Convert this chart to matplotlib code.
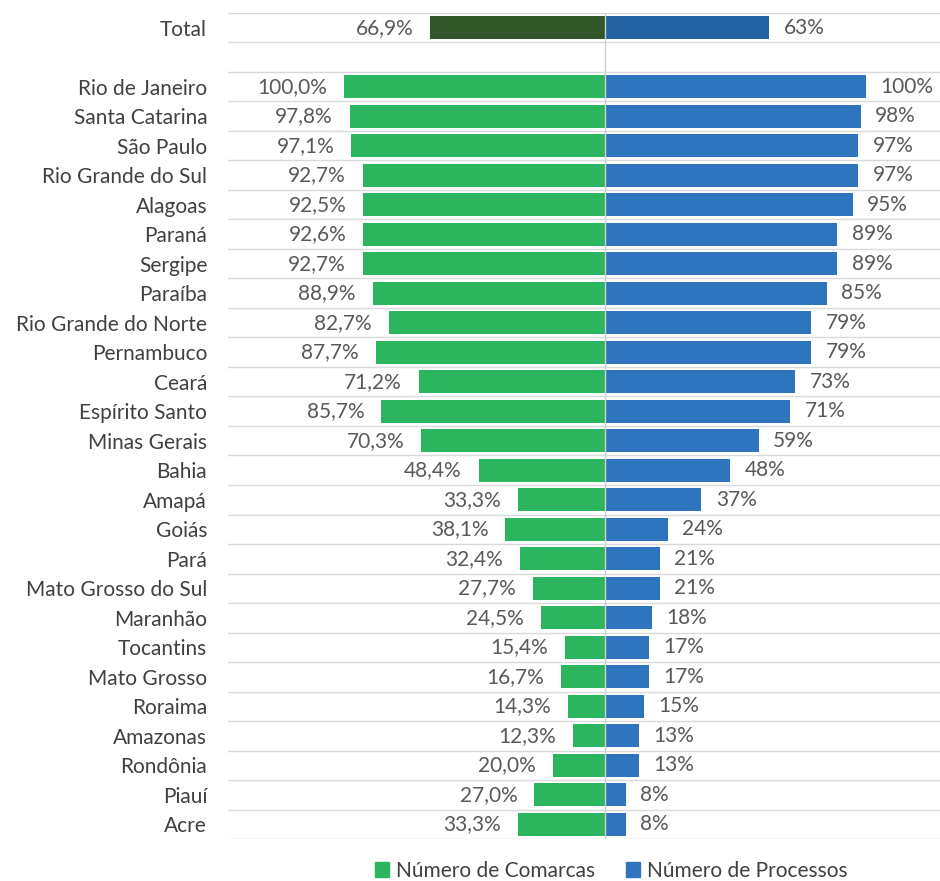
import numpy as np
import matplotlib
matplotlib.use("Agg")
import matplotlib.pyplot as plt
from matplotlib.patches import Patch

plt.rcParams["font.family"] = ["Lato", "DejaVu Sans"]

states = [
    "Rio de Janeiro", "Santa Catarina", "São Paulo", "Rio Grande do Sul",
    "Alagoas", "Paraná", "Sergipe", "Paraíba", "Rio Grande do Norte",
    "Pernambuco", "Ceará", "Espírito Santo", "Minas Gerais", "Bahia",
    "Amapá", "Goiás", "Pará", "Mato Grosso do Sul", "Maranhão",
    "Tocantins", "Mato Grosso", "Roraima", "Amazonas", "Rondônia",
    "Piauí", "Acre",
]
comarcas = [100.0, 97.8, 97.1, 92.7, 92.5, 92.6, 92.7, 88.9, 82.7, 87.7,
            71.2, 85.7, 70.3, 48.4, 33.3, 38.1, 32.4, 27.7, 24.5, 15.4,
            16.7, 14.3, 12.3, 20.0, 27.0, 33.3]
processos = [100, 98, 97, 97, 95, 89, 89, 85, 79, 79, 73, 71, 59, 48, 37,
             24, 21, 21, 18, 17, 17, 15, 13, 13, 8, 8]
total_label = "Total"
total_comarcas = 66.9
total_processos = 63

green = "#2BB55F"
blue = "#2E75BE"
dark_green = "#31562A"
dark_blue = "#2262A2"
text_col = "#595959"
label_col = "#404040"

fig = plt.figure(figsize=(9.4, 8.81), dpi=100)
ax = fig.add_axes([228 / 940, 1 - 839 / 881, 1 - 228 / 940, (839 - 13) / 881])

n = len(states)
ypos = np.arange(n) + 2  # row 0 = total, row 1 = blank
h = 0.78

ax.barh(ypos, [-v for v in comarcas], height=h, color=green)
ax.barh(ypos, processos, height=h, color=blue)
ax.barh([0], [-total_comarcas], height=h, color=dark_green)
ax.barh([0], [total_processos], height=h, color=dark_blue)

fs = 15
for y, c, p in zip(ypos, comarcas, processos):
    ax.text(-c - 6.5, y, f"{c:.1f}%".replace(".", ","), ha="right", va="center",
            fontsize=fs, color=text_col)
    ax.text(p + 5.5, y, f"{p}%", ha="left", va="center", fontsize=fs, color=text_col)
ax.text(-total_comarcas - 6.5, 0, f"{total_comarcas:.1f}%".replace(".", ","),
        ha="right", va="center", fontsize=fs, color=text_col)
ax.text(total_processos + 5.5, 0, f"{total_processos}%", ha="left", va="center",
        fontsize=fs, color=text_col)

ax.set_yticks([0] + list(ypos))
ax.set_yticklabels([total_label] + states, fontsize=fs, color=label_col)
ax.tick_params(axis="y", length=0, pad=15)
ax.set_xticks([])

ax.set_xlim(-144.4, 128.4)
ax.set_ylim(n + 1.5, -0.5)

for b in np.arange(-0.5, n + 2, 1.0):
    ax.axhline(b, color="#D9D9D9", lw=1, zorder=0)
ax.axvline(0, color="#D0D0D0", lw=1, zorder=3)

for s in ax.spines.values():
    s.set_visible(False)

handles = [Patch(color=green, label="Número de Comarcas"),
           Patch(color=blue, label="Número de Processos")]
fig.legend(handles=handles, loc="center", bbox_to_anchor=(611 / 940, 1 - 871 / 881),
           ncol=2, frameon=False, fontsize=fs, handlelength=0.7, handleheight=0.7,
           handletextpad=0.3, columnspacing=1.5, labelcolor=label_col)

fig.savefig("out.png", dpi=100)
